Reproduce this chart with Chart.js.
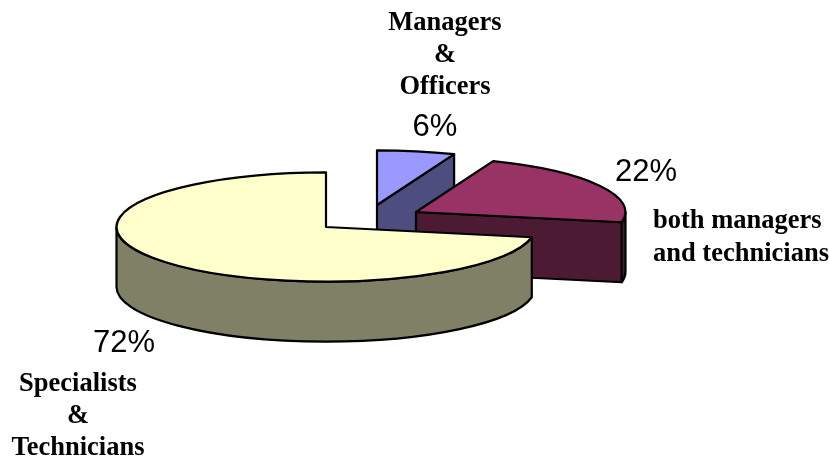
<!DOCTYPE html>
<html><head><meta charset="utf-8">
<style>html,body{margin:0;padding:0;background:#fff}#w{width:829px;height:457px;position:relative}</style>
<script src="https://cdn.jsdelivr.net/npm/chart.js@4"></script></head>
<body><div id="w"><canvas id="c" width="829" height="457"></canvas></div>
<script>
const categories = [["Managers","&","Officers"],["both managers","and technicians"],["Specialists","&","Technicians"]];
const shares = [6,22,72];
const topColors = ["#9999FF","#993366","#FFFFCC"];
const sideColors = ["#4D4D80","#4D1A33","#808066"];

const SQUASH = 54.5/209, DEPTH = 60;
const apex = [[377,205],[416,212],[326,227]];
const pctPos = [[435,136],[646,181],[124,352]];
const namePos = [
  {x:445,y:[30,62,94],align:"center"},
  {x:653,y:[228,261],align:"left"},
  {x:78,y:[391,423,455],align:"center"}
];
const inRange=(a)=>{a=Math.atan2(Math.sin(a),Math.cos(a));return a>-Math.PI/2+1e-3&&a<Math.PI/2-1e-3;};
const pie3d = {
  id:"pie3d",
  beforeDatasetDraw(chart,args){
    const {ctx}=chart;
    const arcs=args.meta.data;
    arcs.forEach((arc,i)=>{
      const [cx,cy]=apex[i];
      const r=arc.outerRadius, ry=r*SQUASH;
      const s=arc.startAngle, e=arc.endAngle;
      const px=a=>cx+r*Math.cos(a), py=a=>cy+ry*Math.sin(a);
      ctx.save();
      ctx.lineWidth=2.2; ctx.strokeStyle="#000"; ctx.lineJoin="round";
      ctx.fillStyle=sideColors[i];
      if(inRange(e)){
        ctx.beginPath();ctx.moveTo(cx,cy);ctx.lineTo(px(e),py(e));
        ctx.lineTo(px(e),py(e)+DEPTH);ctx.lineTo(cx,cy+DEPTH);ctx.closePath();
        ctx.fill();ctx.stroke();
      }
      const w0=Math.max(s,0), w1=Math.min(e,Math.PI);
      if(w1>w0){
        ctx.beginPath();ctx.ellipse(cx,cy,r,ry,0,w0,w1);
        ctx.lineTo(px(w1),py(w1)+DEPTH);
        ctx.ellipse(cx,cy+DEPTH,r,ry,0,w1,w0,true);
        ctx.closePath();ctx.fill();ctx.stroke();
      }
      ctx.restore();
      ctx.save();
      ctx.translate(cx,cy);ctx.scale(1,SQUASH);ctx.translate(-arc.x,-arc.y);
      arc.draw(ctx);
      ctx.restore();
      ctx.save();
      ctx.lineWidth=2.2;ctx.strokeStyle="#000";ctx.lineJoin="round";
      ctx.beginPath();ctx.moveTo(cx,cy);ctx.ellipse(cx,cy,r,ry,0,s,e);ctx.closePath();ctx.stroke();
      ctx.restore();
    });
    return false;
  },
  afterDraw(chart){
    const {ctx}=chart;
    ctx.save();
    ctx.fillStyle="#000";ctx.textBaseline="alphabetic";
    categories.forEach((lines,i)=>{
      ctx.font='bold 26.5px "Liberation Serif"';ctx.textAlign=namePos[i].align;
      lines.forEach((t,j)=>ctx.fillText(t,namePos[i].x,namePos[i].y[j]));
      ctx.font='31px "Liberation Sans"';ctx.textAlign="center";
      ctx.fillText(shares[i]+"%",pctPos[i][0],pctPos[i][1]);
    });
    ctx.restore();
  }
};
new Chart(document.getElementById("c"),{
  type:"pie",
  data:{labels:categories.map(c=>c.join(" ")),datasets:[{data:shares,backgroundColor:topColors,borderWidth:0}]},
  options:{responsive:false,animation:false,rotation:0,
    layout:{padding:{top:19,bottom:19,left:0,right:0}},
    plugins:{legend:{display:false},tooltip:{enabled:false}},events:[]},
  plugins:[pie3d]
});
</script></body></html>
